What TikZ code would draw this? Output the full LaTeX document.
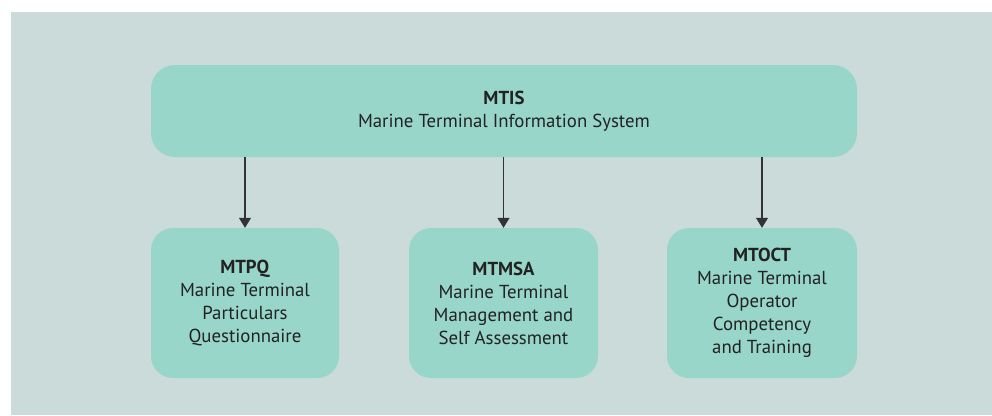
\documentclass[tikz,border=0pt]{standalone}
\usepackage{fontspec}
\setmainfont{PT Sans}
\usetikzlibrary{arrows.meta}
\definecolor{panelbg}{HTML}{CBDBD9}
\definecolor{boxfill}{HTML}{97D6C9}
\definecolor{inktext}{HTML}{222222}
\definecolor{inkline}{HTML}{333333}
\tikzset{
  unitbox/.style={fill=boxfill, draw=none, rounded corners=22pt, inner sep=0pt},
  unittext/.style={align=center, text=inktext, font=\fontsize{18.8}{23}\selectfont},
  feed/.style={draw=inkline, line width=1.2pt, -{Triangle[length=10pt,width=12pt]}}
}
\begin{document}
\begin{tikzpicture}[x=1pt,y=-1pt]
  \useasboundingbox (0,0) rectangle (992,415);
  % page and panel
  \fill[white] (0,0) rectangle (992,415);
  \fill[panelbg] (11,12) rectangle (992,415);

  % top system box
  \node[unitbox, minimum width=706pt, minimum height=92pt, rounded corners=24pt] (mtis) at (504,111) {};
  \node[unittext] at (mtis.center) {\textbf{MTIS}\\Marine Terminal Information System};

  % three component boxes
  \node[unitbox, minimum width=188pt, minimum height=150pt] (mtpq) at (245,303) {};
  \node[unittext] at (mtpq.center) {\textbf{MTPQ}\\Marine Terminal\\Particulars\\Questionnaire};

  \node[unitbox, minimum width=189pt, minimum height=150pt] (mtmsa) at (503.5,303) {};
  \node[unittext] at (mtmsa.center) {\textbf{MTMSA}\\Marine Terminal\\Management and\\Self Assessment};

  \node[unitbox, minimum width=190pt, minimum height=150pt] (mtoct) at (762,303) {};
  \node[unittext] at (mtoct.center) {\textbf{MTOCT}\\Marine Terminal\\Operator\\Competency\\and Training};

  % connectors
  \draw[feed] (mtis.south -| mtpq.north) -- (mtpq.north);
  \draw[feed] (mtis.south -| mtmsa.north) -- (mtmsa.north);
  \draw[feed] (mtis.south -| mtoct.north) -- (mtoct.north);
\end{tikzpicture}
\end{document}
